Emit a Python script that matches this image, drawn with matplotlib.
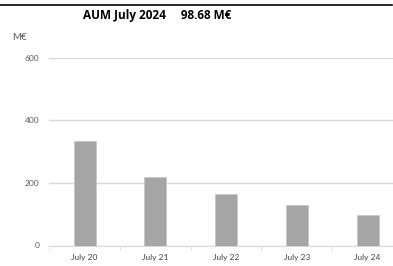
import matplotlib.pyplot as plt
import numpy as np

# Data
months = ['July 20', 'July 21', 'July 22', 'July 23', 'July 24']
aum = [332, 218, 163, 129, 98.68]
yticks = [0, 200, 400, 600]

plt.rcParams['font.family'] = ['Lato', 'DejaVu Sans']

fig = plt.figure(figsize=(3.93, 2.66), dpi=100)
ax = fig.add_axes([49.3 / 393, 20.5 / 266, 1 - 49.3 / 393, 188 / 266])

x = np.arange(len(months))
ax.bar(x, aum, width=0.31, color='#a5a5a5', edgecolor='#c8c8c8', linewidth=0.6, zorder=3)

ax.set_xlim(-0.5, 4.36)
ax.set_ylim(0, 600)
ax.set_yticks(yticks)
ax.set_xticks(x)
ax.set_xticklabels(months)
ax.set_xticks(np.arange(-0.5, 4.5, 1), minor=True)

ax.grid(axis='y', color='#d9d9d9', linewidth=1, zorder=0)
for s in ['top', 'right', 'left']:
    ax.spines[s].set_visible(False)
ax.spines['bottom'].set_color('#d9d9d9')
ax.tick_params(axis='y', length=0, labelsize=6, labelcolor='#595959', pad=7)
ax.tick_params(axis='x', which='major', length=0, labelsize=6, labelcolor='#404040', pad=6)
ax.tick_params(axis='x', which='minor', length=3, color='#d9d9d9', direction='out')

# Title and unit label
fig.text(157 / 393, 1 - 16 / 266, 'AUM July 2024     98.68 M\u20ac', ha='center', va='center',
         fontsize=8.5, fontweight='bold', color='black', family=['Open Sans', 'DejaVu Sans'])
fig.text(12 / 393, 1 - 37 / 266, 'M\u20ac', ha='left', va='center', fontsize=7, color='#595959')

# top border line
fig.add_artist(plt.Line2D([0, 0.997], [1 - 4.5 / 266] * 2, color='black', linewidth=1.2,
                          transform=fig.transFigure))

fig.savefig('out.png', dpi=100)
